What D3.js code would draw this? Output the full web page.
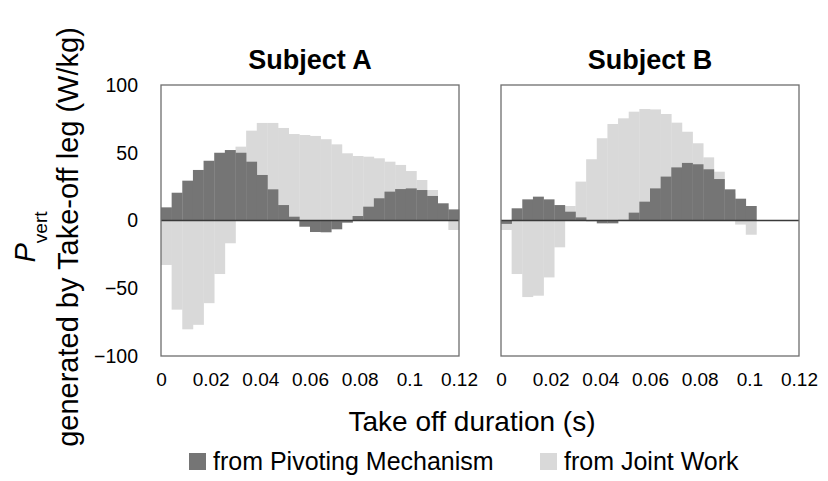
<!DOCTYPE html>
<html>
<head>
<meta charset="utf-8">
<script src="https://cdn.jsdelivr.net/npm/d3@7"></script>
<style>
  body { margin: 0; background: #fff; }
  text { font-family: "Liberation Sans", Arial, sans-serif; fill: #000; }
</style>
</head>
<body>
<svg id="chart" width="828" height="481"></svg>
<script>
// values, one per sample
const subjects = ['Subject A', 'Subject B']
const xTicks = [0, 0.02, 0.04, 0.06, 0.08, 0.1, 0.12]
const yTicks = [-100, -50, 0, 50, 100]
const legendNames = ['from Pivoting Mechanism', 'from Joint Work']

const sampleStep = 0.12 / 28   // s per bar

const pivotA = [9.7, 20.5, 29.4, 37.3, 44.1, 50.0, 52.0, 50.0, 43.4, 33.6, 23.0, 11.4, 2.8, -4.6,
  -8.5, -8.7, -6.5, -1.6, 3.3, 10.2, 16.4, 21.3, 23.2, 23.7, 22.5, 18.1, 12.7, 8.2]
const jointA = [-32.8, -65.8, -80.3, -77.0, -61.0, -39.5, -16.8, 54.5, 66.3, 72.0, 72.0, 68.3, 63.8, 63.1,
  62.4, 60.0, 56.2, 49.6, 47.6, 47.1, 45.9, 43.4, 41.0, 36.5, 29.9, 22.5, 10.0, -7.0]

const pivotB = [-2.5, 9.0, 15.6, 17.6, 15.6, 11.4, 6.5, 2.3, -0.5, -2.1, -2.1, 0.5,
  5.8, 13.9, 23.7, 32.4, 39.2, 42.5, 41.5, 37.8, 30.6, 23.0, 16.1, 10.7]
const jointB = [-7.0, -39.5, -56.5, -55.5, -42.0, -19.8, 10.7, 28.7, 45.2, 60.7, 71.2, 75.4,
  80.3, 82.3, 82.0, 78.6, 72.2, 65.5, 57.0, 46.6, 36.0, 20.0, -3.0, -10.5]

const colors = ['#757575', '#d9d9d9']

let svg = d3.select('#chart')

let W = 298, H = 271, plotTop = 85
let panels = [
  { name: subjects[0], pivot: pivotA, joint: jointA, left: 161 },
  { name: subjects[1], pivot: pivotB, joint: jointB, left: 501 }
]

let x = d3.scaleLinear().domain([0, 0.12]).range([0, W])
let y = d3.scaleLinear().domain([-100, 100]).range([H, 0])

function drawBars(g, values, color) {
  g.append('g').selectAll('rect').data(values).enter()
    .append('rect')
    .attr('x', (d, i) => x(i * sampleStep))
    .attr('width', (d, i) => x((i + 1) * sampleStep) - x(i * sampleStep) + 0.3)
    .attr('y', d => y(Math.max(0, d)))
    .attr('height', d => Math.abs(y(d) - y(0)))
    .attr('fill', color)
}

panels.forEach((p, k) => {
  let g = svg.append('g').attr('transform', `translate(${p.left},${plotTop})`)

  // joint work behind, pivoting on top
  drawBars(g, p.joint, colors[1])
  drawBars(g, p.pivot, colors[0])

  g.append('line')
    .attr('x1', 0).attr('x2', W)
    .attr('y1', y(0)).attr('y2', y(0))
    .attr('stroke', '#3a3a3a').attr('stroke-width', 1.5)

  g.append('rect')
    .attr('width', W).attr('height', H)
    .attr('fill', 'none')
    .attr('stroke', '#6e6e6e').attr('stroke-width', 1.3)

  let xa = g.append('g')
    .attr('transform', `translate(0,${H})`)
    .call(d3.axisBottom(x).tickValues(xTicks).tickSize(0).tickPadding(17).tickFormat(d3.format('~g')))
  xa.select('.domain').remove()
  xa.selectAll('text').style('font-size', '19px')

  if (k === 0) {
    let ya = g.append('g')
      .call(d3.axisLeft(y).tickValues(yTicks).tickSize(0).tickPadding(23))
    ya.select('.domain').remove()
    ya.selectAll('text').style('font-size', '19.5px')
  }

  g.append('text')
    .attr('x', W / 2).attr('y', -16)
    .attr('text-anchor', 'middle')
    .style('font-size', '27px').style('font-weight', 'bold')
    .text(p.name)
})

// y title, two lines
let yt = svg.append('g').attr('transform', 'translate(0,237) rotate(-90)')
let l1 = yt.append('text').attr('x', 0).attr('y', 35).attr('text-anchor', 'middle').style('font-size', '29px')
l1.append('tspan').style('font-style', 'italic').text('P')
l1.append('tspan').attr('dy', 12).style('font-size', '19px').text('vert')
yt.append('text').attr('x', 0).attr('y', 78).attr('text-anchor', 'middle')
  .style('font-size', '29px')
  .text('generated by Take-off leg (W/kg)')

// x title
svg.append('text')
  .attr('x', 472).attr('y', 431)
  .attr('text-anchor', 'middle')
  .style('font-size', '28px')
  .text('Take off duration (s)')

// legend
let legendX = [189, 540]
legendNames.forEach((name, i) => {
  svg.append('rect')
    .attr('x', legendX[i]).attr('y', 453)
    .attr('width', 17).attr('height', 17)
    .attr('fill', colors[i])
  svg.append('text')
    .attr('x', legendX[i] + 24).attr('y', 470)
    .style('font-size', '25px')
    .text(name)
})
</script>
</body>
</html>
